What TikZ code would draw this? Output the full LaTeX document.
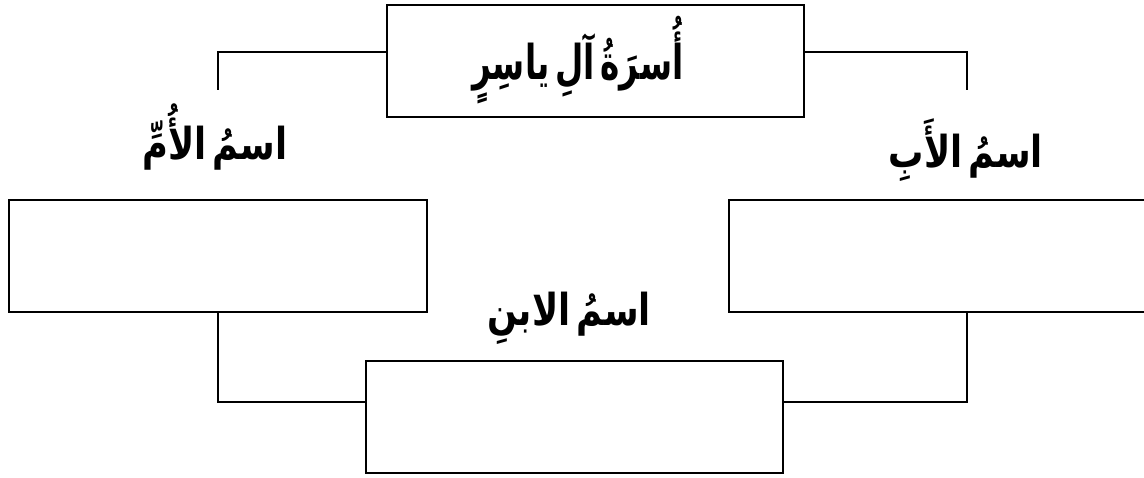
\documentclass[tikz,border=0pt]{standalone}
\usepackage{fontspec}
\usepackage{graphicx}
\newfontfamily\arabicfont[Script=Arabic,WordSpace=0.5]{DejaVu Sans}
\TeXXeTstate=1
\usepackage{tikz}
\tikzset{namebox/.style={draw, line width=2.6pt, minimum width=418pt, minimum height=112pt, inner sep=0pt}}
\tikzset{wire/.style={line width=2.6pt}}
\tikzset{arlabel/.style={font=\arabicfont\bfseries\fontsize{44}{50}\selectfont, inner sep=0pt}}
\newcommand{\rtl}[2][0.8]{\scalebox{#1}[1]{\beginR #2\endR}}

\begin{document}
\begin{tikzpicture}[x=1pt,y=-1pt]
    \clip (0,0) rectangle (1144,478);
    \node[namebox, minimum width=417pt] (family) at (595.5,61) {};
    \node[namebox] (mbox) at (218,256) {};
    \node[namebox] (fbox) at (938,256) {};
    \node[namebox, minimum width=417pt] (sbox) at (574.5,417) {};

    \node[arlabel, font=\arabicfont\bfseries\fontsize{48}{54}\selectfont] (title) at (578,60) {\rtl[0.68]{أُسرَةُ آلِ ياسِرٍ}};
    \node[arlabel] (mname) at (215,137) {\rtl{اسمُ الأُمِّ}};
    \node[arlabel] (fname) at (966,150) {\rtl{اسمُ الأَبِ}};
    \node[arlabel] (sname) at (569,318) {\rtl{اسمُ الابنِ}};

    \coordinate (mtick) at (218,90);
    \coordinate (ftick) at (967,90);
    \draw[wire] ([yshift=9pt]family.west) -| (mtick);
    \draw[wire] ([yshift=9pt]family.east) -| (ftick);
    \draw[wire] (mbox.south) |- ([yshift=15pt]sbox.west);
    \draw[wire] (fbox.south -| ftick) |- ([yshift=15pt]sbox.east);
\end{tikzpicture}
\end{document}
